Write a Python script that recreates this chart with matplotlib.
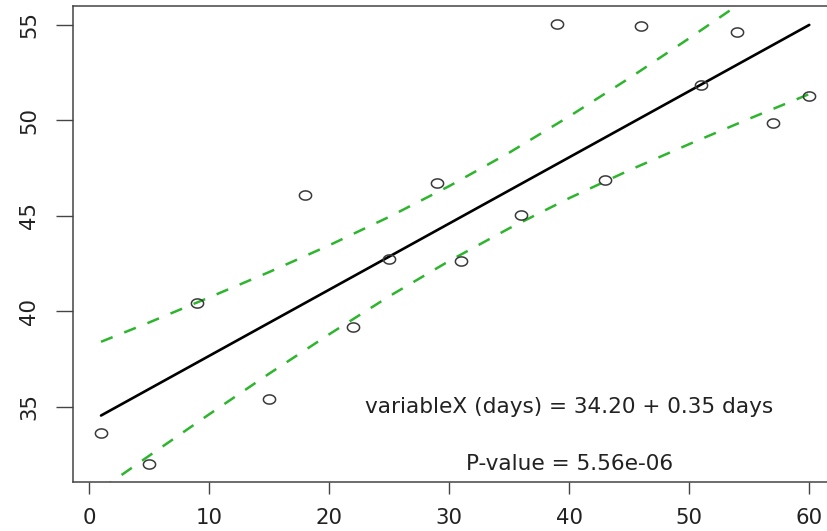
import numpy as np
import matplotlib
matplotlib.use("Agg")
import matplotlib.pyplot as plt
from matplotlib.path import Path

# ---- data ----
days = [1, 5, 9, 15, 18, 22, 25, 29, 31, 36, 39, 43, 46, 51, 54, 57, 60]
values = [33.64, 32.03, 40.45, 35.44, 46.09, 39.19, 42.72, 46.74, 42.63,
          45.04, 55.04, 46.88, 54.96, 51.86, 54.62, 49.85, 51.30]

fit_x = [1, 60]
fit_y = [34.55, 55.00]

band_x = [1, 5, 10, 15, 20, 25, 30, 35, 40, 45, 50, 55, 60]
band_upper = [38.41, 39.42, 40.73, 42.06, 43.46, 44.95, 46.56, 48.31,
              50.21, 52.21, 54.30, 56.45, 58.62]
band_lower = [30.69, 32.44, 34.61, 36.74, 38.80, 40.79, 42.64, 44.35,
              45.93, 47.39, 48.76, 50.09, 51.38]

x_ticks = [0, 10, 20, 30, 40, 50, 60]
y_ticks = [35, 40, 45, 50, 55]
equation_label = "variableX (days) = 34.20 + 0.35 days"
pvalue_label = "P-value = 5.56e-06"

# ---- figure ----
W, H = 827, 531
fig = plt.figure(figsize=(W / 100, H / 100), dpi=100)
left_px, right_px, top_px, bottom_px = 72.7, 837.6, 6.0, 482.0
ax = fig.add_axes([left_px / W, 1 - bottom_px / H,
                   (right_px - left_px) / W, (bottom_px - top_px) / H])
ax.set_xlim(-1.36, 62.36)
ax.set_ylim(31.07, 55.99)

# elliptical open marker (reference is horizontally stretched)
t = np.linspace(0, 2 * np.pi, 49)
ell = Path(np.column_stack([np.cos(t), 0.75 * np.sin(t)]))

green = "#2db52d"
ax.plot(band_x, band_upper, color=green, lw=1.8, dashes=(5, 5), zorder=2)
ax.plot(band_x, band_lower, color=green, lw=1.8, dashes=(5, 5), zorder=2)
ax.plot(fit_x, fit_y, color="black", lw=1.9, solid_capstyle="round", zorder=3)
ax.plot(days, values, linestyle="none", marker=ell, markersize=8.8,
        markerfacecolor="none", markeredgecolor="#3a3a3a",
        markeredgewidth=1.1, zorder=4)

txt_kw = dict(ha="center", va="center", fontsize=15.6, color="#222222",
              family="DejaVu Sans")
ax.text(40, 35, equation_label, **txt_kw)
ax.text(40, 32, pvalue_label, **txt_kw)

ax.set_xticks(x_ticks)
ax.set_yticks(y_ticks)
ax.set_xticklabels([str(v) for v in x_ticks])
ax.set_yticklabels([str(v) for v in y_ticks])
for sp in ax.spines.values():
    sp.set_color("#444444")
    sp.set_linewidth(1.1)
ax.tick_params(axis="x", direction="out", length=8.6, width=1.0,
               colors="#444444", labelcolor="#222222", labelsize=15.3, pad=10)
ax.tick_params(axis="y", direction="out", length=12.2, width=1.0,
               colors="#444444", labelcolor="#222222", labelsize=15.3, pad=12)
for lab in ax.get_xticklabels() + ax.get_yticklabels():
    lab.set_family("DejaVu Sans")
plt.setp(ax.get_yticklabels(), rotation=90, va="center")

fig.savefig("out.png", dpi=100)
